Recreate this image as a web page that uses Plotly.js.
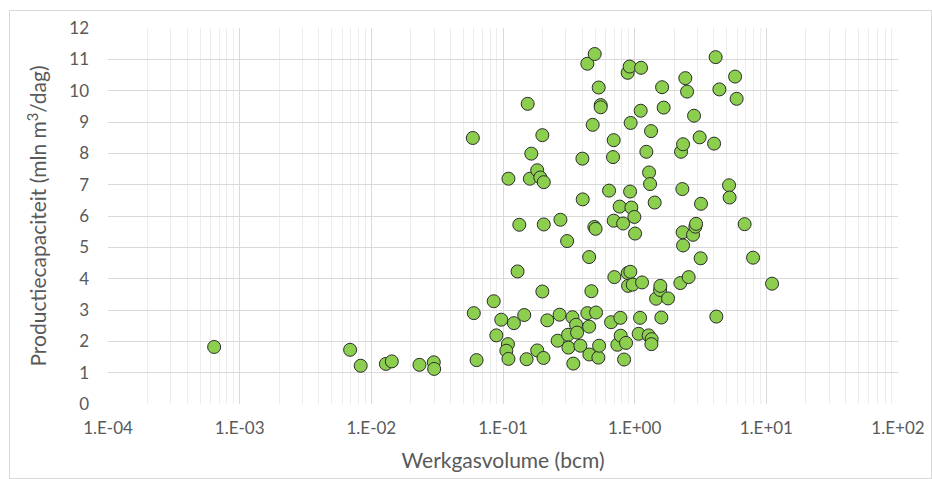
<!DOCTYPE html>
<html>
<head>
<meta charset="utf-8">
<script src="https://cdn.plot.ly/plotly-3.0.1.min.js"></script>
<style>
  html, body { margin: 0; padding: 0; background: #fff; }
  #wrap { position: relative; width: 932px; height: 479px; }
  #chart { position: absolute; left: 0; top: 0; width: 932px; height: 479px; }
  #frame { position: absolute; left: 9px; top: 10px; width: 921px; height: 467px; border: 1px solid #d9d9d9; pointer-events: none; }
</style>
</head>
<body>
<div id="wrap">
  <div id="chart"></div>
  <div id="frame"></div>
</div>
<script>
// Werkgasvolume (bcm)
const werkgasvolume = [
  0.00064, 0.0069, 0.0083, 0.0129, 0.0143, 0.0232, 0.0298, 0.030,
  0.059, 0.060, 0.063, 0.085, 0.089, 0.097, 0.109, 0.106, 0.110, 0.110,
  0.121, 0.129, 0.133, 0.145, 0.151, 0.154, 0.160, 0.164, 0.182, 0.192,
  0.204, 0.182, 0.203, 0.199, 0.199, 0.204, 0.217, 0.260, 0.269, 0.273,
  0.307, 0.312, 0.314, 0.337, 0.342, 0.359, 0.365, 0.387, 0.401, 0.403,
  0.437, 0.437, 0.451, 0.451, 0.453, 0.469, 0.480, 0.497, 0.494, 0.505,
  0.509, 0.530, 0.537, 0.533, 0.552, 0.552, 0.639, 0.662, 0.685, 0.693,
  0.693, 0.701, 0.739, 0.779, 0.783, 0.769, 0.817, 0.831, 0.860, 0.885,
  0.885, 0.891, 0.916, 0.923, 0.927, 0.932, 0.944, 0.966, 0.995, 1.007,
  1.072, 1.099, 1.111, 1.118, 1.138, 1.227, 1.277, 1.286, 1.309, 1.332,
  1.346, 1.340, 1.419, 1.454, 1.560, 1.567, 1.595, 1.615, 1.660, 1.793,
  2.223, 2.250, 2.331, 2.303, 2.314, 2.331, 2.426, 2.500, 2.570, 2.825,
  2.776, 2.890, 2.926, 3.116, 3.19, 3.17, 4.01, 4.12, 4.17, 4.40,
  5.21, 5.26, 5.79, 5.95, 6.84, 7.93, 11.05
];
// Productiecapaciteit (mln m3/dag)
const productiecapaciteit = [
  1.82, 1.73, 1.22, 1.28, 1.36, 1.25, 1.33, 1.12,
  8.49, 2.90, 1.40, 3.28, 2.19, 2.69, 1.91, 1.70, 1.44, 7.19,
  2.58, 4.23, 5.72, 2.84, 1.43, 9.58, 7.19, 7.99, 7.46, 7.23,
  7.08, 1.71, 1.47, 3.59, 8.58, 5.73, 2.67, 2.02, 2.85, 5.88,
  5.20, 2.21, 1.80, 2.77, 1.29, 2.53, 2.28, 1.86, 7.83, 6.53,
  10.86, 2.90, 4.69, 2.47, 1.58, 3.60, 8.91, 11.17, 5.65, 5.59,
  2.92, 1.48, 1.86, 10.10, 9.54, 9.47, 6.81, 2.61, 7.88, 8.42,
  5.85, 4.05, 1.89, 2.75, 2.18, 6.30, 5.76, 1.42, 1.95, 10.57,
  4.18, 3.77, 10.77, 6.78, 4.22, 8.97, 6.27, 3.81, 5.97, 5.44,
  2.24, 2.75, 9.36, 10.73, 3.88, 8.05, 2.19, 7.39, 7.02, 8.71,
  2.07, 1.91, 6.43, 3.36, 3.64, 3.77, 2.76, 10.11, 9.46, 3.37,
  3.86, 8.05, 8.29, 6.86, 5.48, 5.06, 10.40, 9.97, 4.05, 9.20,
  5.40, 5.66, 5.75, 8.51, 6.39, 4.65, 8.31, 11.07, 2.79, 10.04,
  6.98, 6.59, 10.45, 9.74, 5.74, 4.67, 3.84
];
const xTickVals = [1e-4, 1e-3, 1e-2, 1e-1, 1e0, 1e1, 1e2];
const xTickText = ['1.E-04', '1.E-03', '1.E-02', '1.E-01', '1.E+00', '1.E+01', '1.E+02'];
const yTickVals = [0, 1, 2, 3, 4, 5, 6, 7, 8, 9, 10, 11, 12];

const minorVals = [];
for (let e = -4; e < 2; e++) {
  for (let m = 2; m <= 9; m++) minorVals.push(m * Math.pow(10, e));
}

const font = 'Lato, "Open Sans", sans-serif';

Plotly.newPlot('chart', [{
  type: 'scatter',
  mode: 'markers',
  x: werkgasvolume,
  y: productiecapaciteit,
  marker: { size: 13, color: '#8ccf4e', line: { color: '#2b2b2b', width: 1 } },
  hoverinfo: 'x+y'
}], {
  width: 932, height: 479,
  margin: { l: 108, r: 34, t: 28, b: 75 },
  paper_bgcolor: '#ffffff', plot_bgcolor: '#ffffff',
  showlegend: false,
  font: { family: font, color: '#595959', size: 17 },
  xaxis: {
    type: 'log',
    range: [-4, 2],
    tickmode: 'array', tickvals: xTickVals, ticktext: xTickText,
    showgrid: true, gridcolor: '#d9d9d9', gridwidth: 1,
    minor: { tickmode: 'array', tickvals: minorVals, showgrid: true, gridcolor: '#ededed', gridwidth: 1, ticks: '' },
    zeroline: false, showline: false, ticks: '',
    ticklabelstandoff: 12,
    tickfont: { family: font, size: 17, color: '#595959' },
    title: { text: 'Werkgasvolume (bcm)', font: { family: font, size: 21, color: '#595959' }, standoff: 16 }
  },
  yaxis: {
    range: [0, 12],
    tickmode: 'array', tickvals: yTickVals,
    showgrid: true, gridcolor: '#d9d9d9', gridwidth: 1,
    zeroline: false, showline: false, ticks: '',
    ticklabelstandoff: 18,
    tickfont: { family: font, size: 17, color: '#595959' },
    title: { text: 'Productiecapaciteit (mln m<sup>3</sup>/dag)', font: { family: font, size: 21, color: '#595959' }, standoff: 16 }
  }
}, { displayModeBar: false, staticPlot: true });
</script>
</body>
</html>
